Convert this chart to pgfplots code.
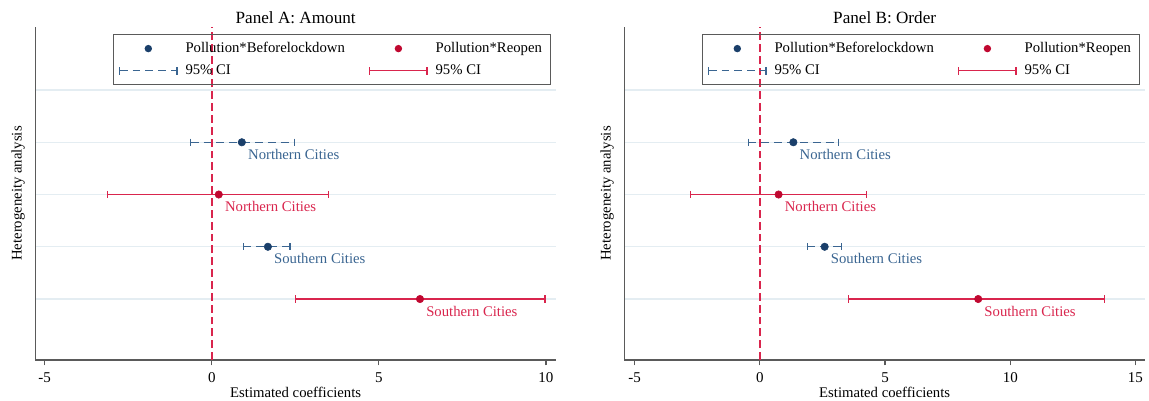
\documentclass[border=0pt]{standalone}
\usepackage{fontspec}
\setmainfont{Liberation Serif}
\usepackage{pgfplots}
\pgfplotsset{compat=1.18}
\definecolor{navyM}{HTML}{1A3F6A}
\definecolor{navyL}{HTML}{3A6591}
\definecolor{redM}{HTML}{C00830}
\definecolor{redL}{HTML}{D9254D}
\definecolor{gridc}{HTML}{E4EDF2}
\definecolor{axisc}{HTML}{5A5A5A}

\pgfplotsset{
 panel/.style={
  scale only axis, width=364.5pt, height=233.1pt,
  ymin=-0.167, ymax=6.206,
  axis x line*=bottom, axis y line*=left,
  axis line style={axisc, line width=0.9pt, -},
  ytick={1,2,3,4,5}, yticklabels={}, ymajorgrids,
  major grid style={gridc, line width=0.8pt},
  ytick style={draw=none},
  xtick align=outside, xtick style={axisc, line width=0.8pt}, major tick length=3.7pt,
  tick label style={font=\fontsize{10.5}{12}\selectfont},
  xticklabel style={yshift=-1.5pt},
  /pgf/number format/assume math mode=true,
  xlabel={Estimated coefficients}, ylabel={Heterogeneity analysis},
  label style={font=\fontsize{10.3}{12}\selectfont},
  xlabel style={at={([yshift=-22.9pt]axis description cs:0.5,0)}, anchor=center},
  ylabel style={at={([xshift=-12.1pt]axis description cs:0,0.5)}, anchor=center},
  every axis title shift=0pt,
  title style={at={([yshift=6.6pt]axis description cs:0.5,1)}, anchor=center, yshift=0pt, font=\fontsize{12}{14}\selectfont},
  legend columns=2, legend cell align=left,
  legend style={at={(0.149,0.979)}, anchor=north west, draw=axisc, line width=0.7pt, fill=none,
    font=\fontsize{10.3}{12}\selectfont, inner xsep=4pt, inner ysep=3.5pt, row sep=3pt,
    /tikz/every odd column/.append style={column sep=3.6pt},
    /tikz/every even column/.append style={column sep=15pt}},
 },
 ciB/.style={navyL, line width=0.9pt, dash pattern=on 5.5pt off 3.5pt, mark=|, mark size=2.6pt, mark options={solid}, forget plot},
 ciR/.style={redL, line width=0.9pt, mark=|, mark size=2.6pt, forget plot},
 zero/.style={redL, line width=1.3pt, dash pattern=on 5.5pt off 2.8pt, forget plot},
 ptB/.style={navyM, only marks, mark=*, mark size=2.6pt, nodes near coords, point meta=explicit symbolic,
   nodes near coords style={anchor=north west, inner sep=0pt, xshift=4.2pt, yshift=-4.6pt, navyL, font=\fontsize{10.3}{12}\selectfont}, forget plot},
 ptR/.style={redM, only marks, mark=*, mark size=2.6pt, nodes near coords, point meta=explicit symbolic,
   nodes near coords style={anchor=north west, inner sep=0pt, xshift=4.2pt, yshift=-4.6pt, redL, font=\fontsize{10.3}{12}\selectfont}, forget plot},
}

\newcommand{\mylegend}{%
  \addlegendimage{legend image code/.code={\path[draw=none,fill=none] (0pt,-2.6pt) rectangle (40pt,2.6pt); \fill[navyM, draw=none] (20pt,0pt) circle (2.6pt);}}
  \addlegendentry{Pollution*Beforelockdown}
  \addlegendimage{legend image code/.code={\path[draw=none,fill=none] (0pt,-2.6pt) rectangle (40pt,2.6pt); \fill[redM, draw=none] (20pt,0pt) circle (2.6pt);}}
  \addlegendentry{Pollution*Reopen}
  \addlegendimage{legend image code/.code={\draw[navyL, line width=0.9pt, dash pattern=on 5.5pt off 3.5pt] (0pt,0pt) -- (40pt,0pt); \draw[navyL, line width=0.9pt, solid] (0pt,-2.6pt) -- (0pt,2.6pt) (40pt,-2.6pt) -- (40pt,2.6pt);}}
  \addlegendentry{95\% CI}
  \addlegendimage{legend image code/.code={\draw[redL, line width=0.9pt, solid] (0pt,0pt) -- (40pt,0pt); \draw[redL, line width=0.9pt, solid] (0pt,-2.6pt) -- (0pt,2.6pt) (40pt,-2.6pt) -- (40pt,2.6pt);}}
  \addlegendentry{95\% CI}
}

\begin{document}
\begin{tikzpicture}
\path[use as bounding box] (-24.71pt,-28.7pt) rectangle (779.59pt,252pt);

\begin{axis}[panel, at={(0pt,0pt)}, anchor=south west,
  title={Panel A: Amount}, xmin=-5.28, xmax=10.30, xtick={-5,0,5,10}]
\addplot[zero] coordinates {(0,-0.167) (0,6.206)};
\addplot[ciB] coordinates {(-0.63,4) (2.47,4)};
\addplot[ciR] coordinates {(-3.11,3) (3.50,3)};
\addplot[ciB] coordinates {(0.95,2) (2.34,2)};
\addplot[ciR] coordinates {(2.51,1) (9.97,1)};
\addplot[ptB] table[meta=lab, col sep=comma] {
x,y,lab
0.90,4,Northern Cities
1.68,2,Southern Cities
};
\addplot[ptR] table[meta=lab, col sep=comma] {
x,y,lab
0.21,3,Northern Cities
6.23,1,Southern Cities
};
\mylegend
\end{axis}

\begin{axis}[panel, at={(412.3pt,0pt)}, anchor=south west,
  title={Panel B: Order}, xmin=-5.41, xmax=15.38, xtick={-5,0,5,10,15}]
\addplot[zero] coordinates {(0,-0.167) (0,6.206)};
\addplot[ciB] coordinates {(-0.45,4) (3.13,4)};
\addplot[ciR] coordinates {(-2.78,3) (4.26,3)};
\addplot[ciB] coordinates {(1.91,2) (3.26,2)};
\addplot[ciR] coordinates {(3.53,1) (13.76,1)};
\addplot[ptB] table[meta=lab, col sep=comma] {
x,y,lab
1.34,4,Northern Cities
2.59,2,Southern Cities
};
\addplot[ptR] table[meta=lab, col sep=comma] {
x,y,lab
0.75,3,Northern Cities
8.72,1,Southern Cities
};
\mylegend
\end{axis}
\end{tikzpicture}
\end{document}
